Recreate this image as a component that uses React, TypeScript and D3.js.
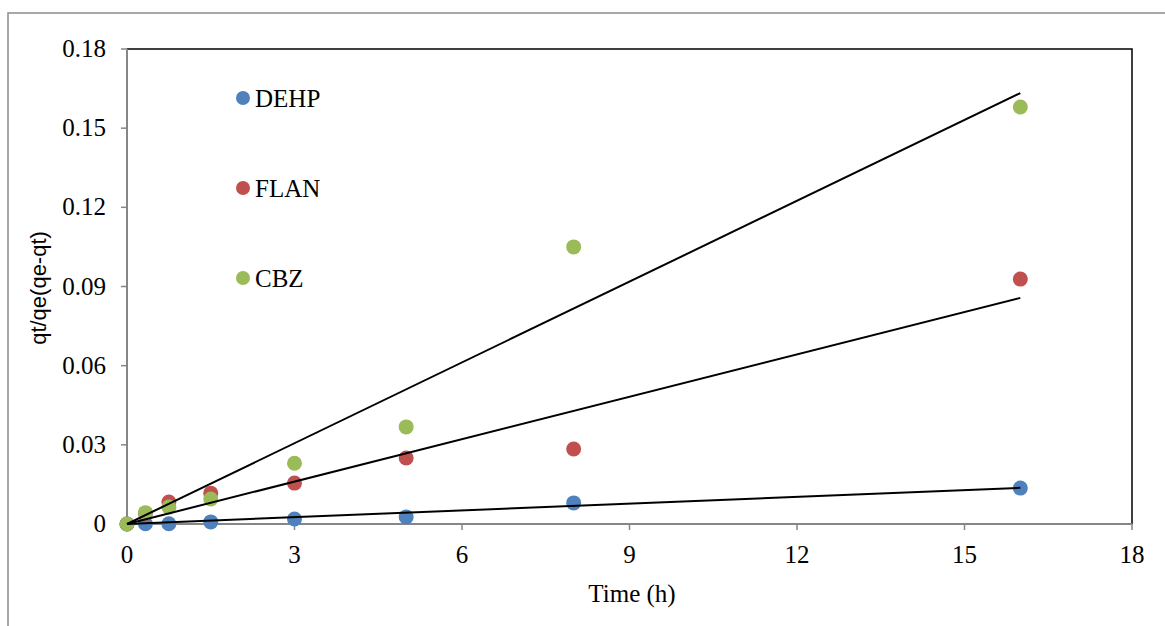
import * as d3 from "d3";

// ── Data ──────────────────────────────────────────────────────────────────────
const TIMES = [0, 0.33, 0.75, 1.5, 3, 5, 8, 16];
const DEHP = [0, 0.0001, 0.0001, 0.0008, 0.0019, 0.0027, 0.008, 0.0136];
const FLAN = [0, 0.004, 0.0083, 0.0117, 0.0155, 0.025, 0.0284, 0.0928];
const CBZ = [0, 0.0043, 0.0064, 0.0095, 0.023, 0.0368, 0.105, 0.158];

// linear trend lines (forced through origin), endpoints
const TREND_X = [0, 16];
const TREND_DEHP = [0, 0.0137];
const TREND_FLAN = [0, 0.0857];
const TREND_CBZ = [0, 0.1633];

const X_TICKS = [0, 3, 6, 9, 12, 15, 18];
const Y_TICKS = [0, 0.03, 0.06, 0.09, 0.12, 0.15, 0.18];

const SERIES = [
  { name: "DEHP", values: DEHP, trend: TREND_DEHP, color: "#4F81BD" },
  { name: "FLAN", values: FLAN, trend: TREND_FLAN, color: "#C0504D" },
  { name: "CBZ", values: CBZ, trend: TREND_CBZ, color: "#9BBB59" },
];

const W = 1165;
const H = 626;
const PLOT = { left: 127, right: 1132, top: 49, bottom: 524 };
const AXIS_GRAY = "#868686";
const SERIF = "'Liberation Serif', 'Times New Roman', serif";
const SANS = "'Liberation Sans', Arial, sans-serif";
const FS = 25;

export default function App() {
  const x = d3.scaleLinear().domain([0, 18]).range([PLOT.left, PLOT.right]);
  const y = d3.scaleLinear().domain([0, 0.18]).range([PLOT.bottom, PLOT.top]);
  const line = d3
    .line<[number, number]>()
    .x((d) => x(d[0]))
    .y((d) => y(d[1]));

  return (
    <svg
      width={W}
      height={H}
      style={{ position: "absolute", left: 0, top: 0, background: "#fff" }}
    >
      {/* outer chart border */}
      <rect x={8} y={13} width={W + 20} height={H + 20} fill="none" stroke="#8c8c8c" strokeWidth={1.5} />

      {/* plot frame: top + right black */}
      <path
        d={`M${PLOT.left},${PLOT.top}H${PLOT.right}V${PLOT.bottom}`}
        fill="none"
        stroke="#000"
        strokeWidth={1.5}
      />

      {/* y axis */}
      <line x1={PLOT.left} x2={PLOT.left} y1={PLOT.top} y2={PLOT.bottom} stroke={AXIS_GRAY} strokeWidth={2} />
      {Y_TICKS.map((t) => (
        <g key={t}>
          <line x1={PLOT.left - 6} x2={PLOT.left} y1={y(t)} y2={y(t)} stroke={AXIS_GRAY} strokeWidth={1.5} />
          <text x={106} y={y(t) + 8} textAnchor="end" fontFamily={SERIF} fontSize={FS} fill="#000">
            {t === 0 ? "0" : d3.format(".2f")(t)}
          </text>
        </g>
      ))}

      {/* x axis */}
      <line x1={PLOT.left} x2={PLOT.right} y1={PLOT.bottom} y2={PLOT.bottom} stroke={AXIS_GRAY} strokeWidth={2} />
      {X_TICKS.map((t) => (
        <g key={t}>
          <line x1={x(t)} x2={x(t)} y1={PLOT.bottom} y2={PLOT.bottom + 6} stroke={AXIS_GRAY} strokeWidth={1.5} />
          <text x={x(t)} y={563} textAnchor="middle" fontFamily={SERIF} fontSize={FS} fill="#000">
            {t}
          </text>
        </g>
      ))}

      {/* axis titles */}
      <text x={632} y={602} textAnchor="middle" fontFamily={SERIF} fontSize={FS} fill="#000">
        Time (h)
      </text>
      <text
        transform={`translate(46,${288}) rotate(-90)`}
        textAnchor="middle"
        fontFamily={SANS}
        fontSize={22}
        fill="#000"
      >
        qt/qe(qe-qt)
      </text>

      {/* points */}
      {SERIES.map((s) => (
        <g key={s.name}>
          {s.values.map((v, i) => (
            <circle key={i} cx={x(TIMES[i])} cy={y(v)} r={7.5} fill={s.color} />
          ))}
        </g>
      ))}

      {/* trend lines */}
      {SERIES.map((s) => (
        <path
          key={s.name + "-trend"}
          d={line(TREND_X.map((t, i) => [t, s.trend[i]] as [number, number])) ?? ""}
          fill="none"
          stroke="#000"
          strokeWidth={2}
        />
      ))}

      {/* legend */}
      {SERIES.map((s, i) => (
        <g key={s.name + "-legend"} transform={`translate(243,${98 + i * 90})`}>
          <circle cx={0} cy={0} r={7} fill={s.color} />
          <text x={12} y={9} fontFamily={SERIF} fontSize={FS} fill="#000">
            {s.name}
          </text>
        </g>
      ))}
    </svg>
  );
}
